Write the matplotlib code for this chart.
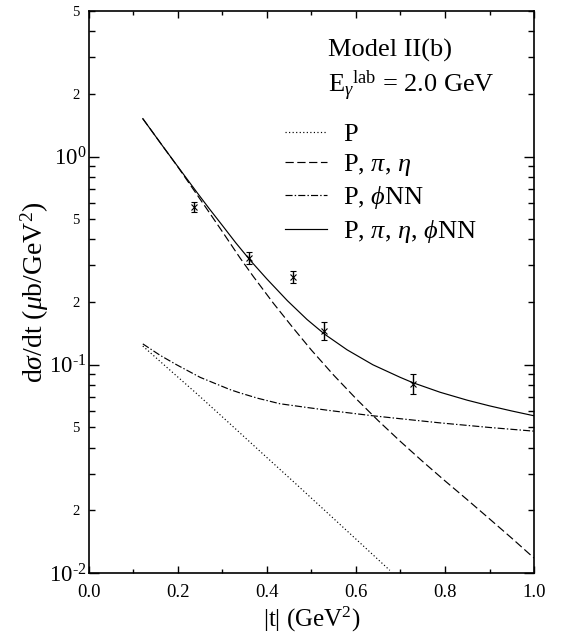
import matplotlib
matplotlib.use("Agg")
import matplotlib.pyplot as plt
from matplotlib.ticker import FixedLocator, FixedFormatter

plt.rcParams['font.family'] = ['Liberation Serif', 'DejaVu Serif']
plt.rcParams['mathtext.fontset'] = 'custom'
plt.rcParams['mathtext.rm'] = 'Liberation Serif'
plt.rcParams['mathtext.it'] = 'Liberation Serif:italic'
plt.rcParams['mathtext.bf'] = 'Liberation Serif:bold'

# Data points
t_data = [0.236, 0.360, 0.458, 0.528, 0.728]
ds_data = [0.575, 0.327, 0.265, 0.146, 0.081]
ds_err = [0.033, 0.022, 0.018, 0.015, 0.009]

# Model curves
t_P = [0.121, 0.18, 0.243, 0.31, 0.391, 0.46, 0.541, 0.61, 0.676]
ds_P = [0.123, 0.0951, 0.0724, 0.0537, 0.0373, 0.0274, 0.0190, 0.0139, 0.0103]

t_ppe = [0.121, 0.166, 0.20, 0.243, 0.27, 0.30, 0.339, 0.369, 0.414, 0.459, 0.50,
         0.55, 0.60, 0.65, 0.70, 0.75, 0.80, 0.85, 0.90, 0.95, 1.0]
ds_ppe = [1.52, 1.12, 0.89, 0.655, 0.54, 0.435, 0.327, 0.266, 0.198, 0.150, 0.1175,
          0.0891, 0.0688, 0.0539, 0.0428, 0.0343, 0.0277, 0.0225, 0.0182, 0.0147, 0.0118]

t_phi = [0.121, 0.16, 0.197, 0.25, 0.317, 0.339, 0.38, 0.429, 0.489, 0.541, 0.60,
         0.638, 0.699, 0.789, 0.9, 1.0]
ds_phi = [0.126, 0.111, 0.100, 0.087, 0.076, 0.0733, 0.069, 0.065, 0.0624, 0.0603, 0.0582,
          0.0569, 0.0551, 0.0526, 0.0500, 0.0480]

t_all = [0.121, 0.166, 0.20, 0.243, 0.27, 0.30, 0.33, 0.362, 0.40, 0.446, 0.49, 0.53,
         0.58, 0.638, 0.699, 0.728, 0.789, 0.85, 0.9, 0.95, 1.0]
ds_all = [1.52, 1.12, 0.893, 0.671, 0.563, 0.466, 0.385, 0.318, 0.258, 0.203, 0.165, 0.140,
          0.118, 0.100, 0.0871, 0.082, 0.0738, 0.0676, 0.0635, 0.060, 0.0569]

fig = plt.figure(figsize=(5.63, 6.35), dpi=100)
ax = fig.add_axes([0.158, 0.0976, 0.7905, 0.8851])

lw = 0.85
ax.plot(t_P, ds_P, color='black', lw=lw, linestyle=(0, (1, 2)), label='P')
ax.plot(t_ppe, ds_ppe, color='black', lw=lw, linestyle=(0, (7, 3)),
        label=r'P, $\pi$, $\eta$')
ax.plot(t_phi, ds_phi, color='black', lw=lw, linestyle=(0, (6, 1.8, 1.2, 1.8)),
        label=r'P, $\phi$NN')
ax.plot(t_all, ds_all, color='black', lw=lw, linestyle='-',
        label=r'P, $\pi$, $\eta$, $\phi$NN')
ax.errorbar(t_data, ds_data, yerr=ds_err, fmt='x', color='black', ms=4,
            mew=0.8, elinewidth=1.0, capsize=2.5, capthick=1.0)

ax.set_yscale('log')
ax.set_xlim(0.0, 1.0)
ax.set_ylim(0.01, 5)

ax.xaxis.set_major_locator(FixedLocator([0.0, 0.2, 0.4, 0.6, 0.8, 1.0]))
ax.xaxis.set_major_formatter(FixedFormatter(['0.0', '0.2', '0.4', '0.6', '0.8', '1.0']))
ax.xaxis.set_minor_locator(FixedLocator([0.1, 0.3, 0.5, 0.7, 0.9]))

decades = [0.01, 0.1, 1.0]
ax.yaxis.set_major_locator(FixedLocator(decades))
ax.yaxis.set_major_formatter(FixedFormatter([r'$\mathregular{10^{\text{-}2}}$',
                                             r'$\mathregular{10^{\text{-}1}}$',
                                             r'$\mathregular{10^{0}}$']))
minor = [d * m for d in decades for m in range(2, 10) if d * m <= 5]
ax.yaxis.set_minor_locator(FixedLocator(minor))
ax.yaxis.set_minor_formatter(FixedFormatter(
    [str(m) if m in (2, 5) else '' for d in decades for m in range(2, 10) if d * m <= 5]))

ax.tick_params(which='both', direction='in', top=True, right=True, width=1.0)
ax.tick_params(axis='x', which='major', length=5, labelsize=13.5, pad=8)
ax.tick_params(axis='x', which='minor', length=3)
ax.tick_params(axis='y', which='major', length=7, labelsize=16.5, pad=2)
ax.tick_params(axis='y', which='minor', length=4, labelsize=10.5, pad=7)

for s in ax.spines.values():
    s.set_linewidth(1.2)

ax.set_xlabel(r'|t| (GeV$^{2}$)', fontsize=18, labelpad=3)
ax.set_ylabel(r'd$\sigma$/dt ($\mu$b/GeV$^{2}$)', fontsize=20)
ax.yaxis.set_label_coords(-0.086, 0.5)

ax.text(0.537, 0.918, 'Model II(b)', transform=ax.transAxes, fontsize=19,
        va='baseline', ha='left')
ax.text(0.537, 0.856, r'E$_{\gamma}$$^{\rm lab}$ = 2.0 GeV', transform=ax.transAxes,
        fontsize=19, va='baseline', ha='left')

ax.legend(loc='upper left', bbox_to_anchor=(0.44, 0.802), frameon=False,
          fontsize=19, handlelength=1.6, handletextpad=0.6, labelspacing=0.24,
          borderpad=0, borderaxespad=0)

fig.savefig('out.png', dpi=100)
